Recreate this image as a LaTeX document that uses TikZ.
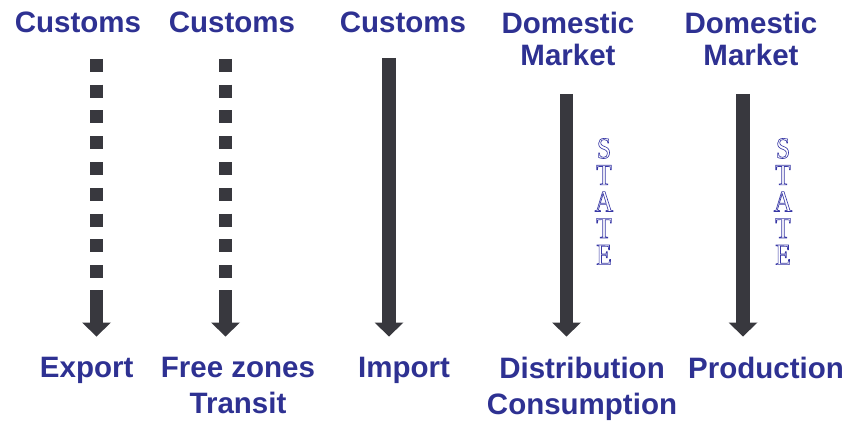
\documentclass[tikz,border=0pt]{standalone}
\usepackage{fontspec}
\usepackage{xcolor}
\usepackage{tikz}
\usetikzlibrary{arrows.meta}
\newfontfamily\labelfont{Liberation Sans}
\newfontfamily\statefont[FakeStretch=0.85]{Liberation Serif}
\definecolor{labelcolor}{RGB}{46,49,146}
\definecolor{barcolor}{RGB}{56,56,62}
\definecolor{statecolor}{RGB}{55,55,165}
\newcommand{\outlineon}{\special{pdf:literal direct 1 Tr 0.65 w}}

\begin{document}
\begin{tikzpicture}[
    x=1pt, y=-1pt,
    lbl/.style={anchor=north, inner sep=0pt, align=center, text=labelcolor, font=\labelfont\bfseries\fontsize{29.5}{32}\selectfont},
    lowlbl/.style={lbl, font=\labelfont\bfseries\fontsize{29.5}{36}\selectfont},
    bar/.style={draw=barcolor, line width=13.5pt},
    dotbar/.style={bar, dash pattern=on 13pt off 12.75pt},
    arrow/.style={bar, -{Triangle[width=29pt, length=14pt, line width=0pt]}},
    statetext/.style={inner sep=0pt, align=center, text=statecolor, font=\statefont\fontsize{30}{26.6}\selectfont}
]
    \useasboundingbox (0,0) rectangle (851,425);

    % Top labels
    \node[lbl] (customsexp) at (78,12) {Customs};
    \node[lbl] (customsfree) at (232,12) {Customs};
    \node[lbl] (customsimp) at (403,12) {Customs};
    \node[lbl] (marketdist) at (568,12) {Domestic\\Market};
    \node[lbl] (marketprod) at (751,12) {Domestic\\Market};

    % Bottom labels
    \node[lowlbl] (export) at (86.7,357) {Export};
    \node[lowlbl] (freezones) at (238,357) {Free zones\\Transit};
    \node[lowlbl] (import) at (404,357) {Import};
    \node[lowlbl] (distribution) at (582,357) {Distribution\\Consumption};
    \node[lowlbl] (production) at (766,357) {Production};

    % Bar ends
    \coordinate (exporttop) at (96.5,59);
    \coordinate (exportmid) at (96.5,290);
    \coordinate (exportend) at (96.5,336.5);
    \coordinate (freetop) at (225.5,59);
    \coordinate (freemid) at (225.5,290);
    \coordinate (freeend) at (225.5,336.5);
    \coordinate (importtop) at (389,58);
    \coordinate (importend) at (389,336.5);
    \coordinate (disttop) at (566.5,94);
    \coordinate (distend) at (566.5,336.5);
    \coordinate (prodtop) at (743,94);
    \coordinate (prodend) at (743,336.5);

    % Arrows
    \draw[dotbar] (exporttop) -- (exportmid);
    \draw[arrow] (exportmid) -- (exportend);
    \draw[dotbar] (freetop) -- (freemid);
    \draw[arrow] (freemid) -- (freeend);
    \draw[arrow] (importtop) -- (importend);
    \draw[arrow] (disttop) -- (distend);
    \draw[arrow] (prodtop) -- (prodend);

    % State marks
    \node[statetext] (statedist) at (604,201.5) {\outlineon S\\T\\A\\T\\E};
    \node[statetext] (stateprod) at (783,201.5) {\outlineon S\\T\\A\\T\\E};
\end{tikzpicture}
\end{document}
